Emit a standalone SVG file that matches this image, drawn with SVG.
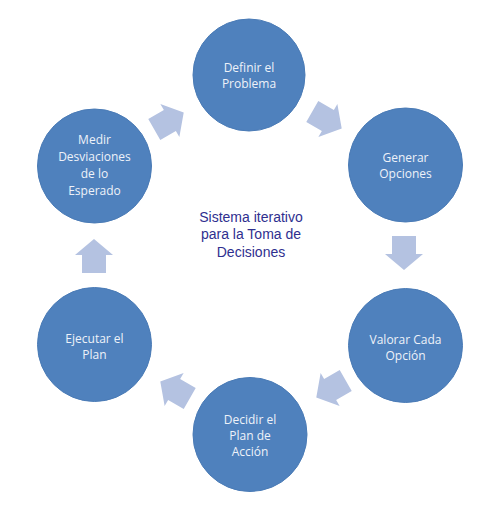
<svg xmlns="http://www.w3.org/2000/svg" xmlns:xlink="http://www.w3.org/1999/xlink" width="501" height="513" viewBox="0 0 501 513">
<style>
.node{fill:#4f81bd;stroke:#4a7bb6;stroke-width:1}
.lbl{font-family:"Open Sans","Noto Sans",sans-serif;font-size:12px;fill:#eef2f9;text-anchor:middle}
.title{font-family:"Liberation Sans",Arial,sans-serif;font-size:14px;fill:#2f2f8f;text-anchor:middle}
.arr{fill:#b4c2e1}
</style>
<defs>
<polygon id="ba" class="arr" points="-17,-12 1,-12 1,-19 17,0 1,19 1,12 -17,12"/>
</defs>
<rect width="501" height="513" fill="#ffffff"/>
<g id="connectors">
<use xlink:href="#ba" transform="translate(169,121) rotate(-30)"/>
<use xlink:href="#ba" transform="translate(327,120) rotate(30)"/>
<use xlink:href="#ba" transform="translate(404,253) rotate(90)"/>
<use xlink:href="#ba" transform="translate(331,389) rotate(150)"/>
<use xlink:href="#ba" transform="translate(175,390) rotate(210)"/>
<use xlink:href="#ba" transform="translate(94,256) rotate(-90)"/>
</g>
<g id="n1">
<circle class="node" cx="249" cy="75" r="56"/>
<text class="lbl" x="249" y="72">Definir el</text>
<text class="lbl" x="249" y="88">Problema</text>
</g>
<g id="n2">
<circle class="node" cx="405.5" cy="165" r="57"/>
<text class="lbl" x="405.5" y="162">Generar</text>
<text class="lbl" x="405.5" y="178">Opciones</text>
</g>
<g id="n3">
<circle class="node" cx="405.5" cy="345.5" r="57"/>
<text class="lbl" x="405.5" y="344">Valorar Cada</text>
<text class="lbl" x="405.5" y="360">Opción</text>
</g>
<g id="n4">
<circle class="node" cx="250" cy="434.5" r="57"/>
<text class="lbl" x="250" y="424">Decidir el</text>
<text class="lbl" x="250" y="440">Plan de</text>
<text class="lbl" x="250" y="456">Acción</text>
</g>
<g id="n5">
<circle class="node" cx="94.5" cy="344.5" r="57"/>
<text class="lbl" x="94.5" y="343">Ejecutar el</text>
<text class="lbl" x="94.5" y="359">Plan</text>
</g>
<g id="n6">
<circle class="node" cx="94.5" cy="166" r="57"/>
<text class="lbl" x="94.5" y="144">Medir</text>
<text class="lbl" x="94.5" y="161">Desviaciones</text>
<text class="lbl" x="94.5" y="178">de lo</text>
<text class="lbl" x="94.5" y="195">Esperado</text>
</g>
<g id="center">
<text class="title" x="251" y="222">Sistema iterativo</text>
<text class="title" x="251" y="239">para la Toma de</text>
<text class="title" x="251" y="257">Decisiones</text>
</g>
</svg>
